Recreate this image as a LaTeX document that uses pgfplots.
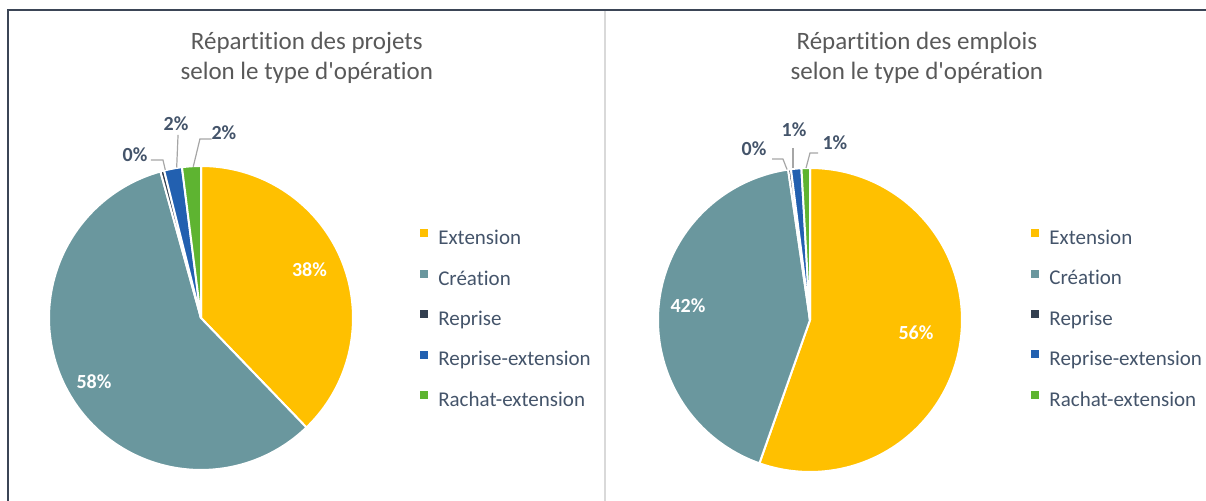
\documentclass[border=0pt]{standalone}
\usepackage{fontspec}
\setmainfont{Carlito}[Ligatures={NoCommon}]
\usepackage{pgfplots}
\pgfplotsset{compat=1.18}
\definecolor{cExt}{HTML}{FFC000}
\definecolor{cCre}{HTML}{6A979E}
\definecolor{cRep}{HTML}{333F50}
\definecolor{cRepExt}{HTML}{2260B0}
\definecolor{cRach}{HTML}{5EB431}
\definecolor{cLab}{HTML}{44546A}
\definecolor{cTitle}{HTML}{595959}
\definecolor{cLead}{HTML}{A6A6A6}
\definecolor{cFrame}{HTML}{3B4556}
\definecolor{cDiv}{HTML}{D9D9D9}
% slice from cumulative percent #1 to #2, clockwise from 12 o'clock
\newcommand{\pieslice}[3]{%
  \pgfmathsetmacro\angA{90-3.6*(#2)}%
  \pgfmathsetmacro\angB{90-3.6*(#1)}%
  \edef\doslice{\noexpand\addplot[fill=#3,draw=white,line width=1pt,domain=\angA:\angB,samples=120]}%
  \doslice ({cos(x)},{sin(x)}) -- (axis cs:0,0) -- cycle;%
}
\pgfplotsset{
  pieaxis/.style={
    x=76pt, y=76pt,
    xmin=-1.2, xmax=1.2, ymin=-1.2, ymax=1.2,
    hide axis, clip=false, anchor=center,
    title style={anchor=center, align=center, text=cTitle, yshift=-7.5pt,
      font=\fontsize{12.5}{15}\selectfont},
    legend style={anchor=north west, draw=none, fill=none, inner sep=0pt,
      row sep=10pt, column sep=5pt, text=cLab,
      font=\fontsize{10.5}{12}\selectfont,
      nodes={inner sep=0pt, text height=7.5pt, text depth=2.5pt}},
    legend cell align=left,
    legend image code/.code={\fill[##1,draw=none] (0pt,1.2pt) rectangle (4pt,5.2pt);},
  },
}
\tikzset{
  inlab/.style={font=\fontsize{10}{12}\selectfont\bfseries, text=white},
  outlab/.style={font=\fontsize{10}{12}\selectfont\bfseries, text=cLab},
  lead/.style={draw=cLead, line width=0.6pt},
}
\begin{document}
\begin{tikzpicture}
% frame
\fill[cFrame] (3.5pt,0pt) rectangle (4.6pt,246pt);
\fill[cFrame] (3.5pt,244.9pt) rectangle (603pt,246pt);
\draw[cDiv, line width=0.6pt] (302.5pt,0pt) -- (302.5pt,244.8pt);

% ---------------- left: projets ----------------
% Extension 37.8, Creation 57.9, Reprise 0.4, Reprise-extension 1.9, Rachat-extension 2.0
\begin{axis}[pieaxis, at={(100.5pt,91.5pt)},
  title={Répartition des projets\\selon le type d\textquotesingle opération},
  title style={at={(0.790,1.221)}},
  legend style={at={(1.100,0.744)}}]
\pieslice{0}{37.8}{cExt}\addlegendentry{Extension}
\pieslice{37.8}{95.7}{cCre}\addlegendentry{Création}
\pieslice{95.7}{96.1}{cRep}\addlegendentry{Reprise}
\pieslice{96.1}{98.0}{cRepExt}\addlegendentry{Reprise-extension}
\pieslice{98.0}{100}{cRach}\addlegendentry{Rachat-extension}
\node[inlab] at (axis cs:0.714,0.319) {38\%};
\node[inlab] at (axis cs:-0.704,-0.421) {58\%};
\node[outlab] at (axis cs:-0.434,1.072) {0\%};
\node[outlab] at (axis cs:-0.164,1.276) {2\%};
\node[outlab] at (axis cs:0.151,1.217) {2\%};
\draw[lead] (axis cs:-0.329,1.039) -- (axis cs:-0.25,1.039) -- (axis cs:-0.235,0.975);
\draw[lead] (axis cs:-0.151,1.205) -- (axis cs:-0.160,0.99);
\draw[lead] (axis cs:0.07,1.178) -- (axis cs:-0.007,1.178) -- (axis cs:-0.051,0.995);
\end{axis}

% ---------------- right: emplois ----------------
% Extension 55.4, Creation 42.3, Reprise 0.3, Reprise-extension 1.1, Rachat-extension 0.9
\begin{axis}[pieaxis, at={(405pt,90.5pt)},
  title={Répartition des emplois\\selon le type d\textquotesingle opération},
  title style={at={(0.793,1.226)}},
  legend style={at={(1.106,0.750)}}]
\pieslice{0}{55.4}{cExt}\addlegendentry{Extension}
\pieslice{55.4}{97.7}{cCre}\addlegendentry{Création}
\pieslice{97.7}{98.0}{cRep}\addlegendentry{Reprise}
\pieslice{98.0}{99.1}{cRepExt}\addlegendentry{Reprise-extension}
\pieslice{99.1}{100}{cRach}\addlegendentry{Rachat-extension}
\node[inlab] at (axis cs:0.697,-0.086) {56\%};
\node[inlab] at (axis cs:-0.803,0.092) {42\%};
\node[outlab] at (axis cs:-0.368,1.125) {0\%};
\node[outlab] at (axis cs:-0.105,1.25) {1\%};
\node[outlab] at (axis cs:0.164,1.164) {1\%};
\draw[lead] (axis cs:-0.25,1.059) -- (axis cs:-0.178,1.059) -- (axis cs:-0.151,0.99);
\draw[lead] (axis cs:-0.112,1.132) -- (axis cs:-0.112,1.0);
\draw[lead] (axis cs:0.053,1.099) -- (axis cs:0,1.099) -- (axis cs:-0.026,1.0);
\end{axis}

\pgfresetboundingbox
\path[use as bounding box] (0pt,0pt) rectangle (603pt,250.5pt);
\end{tikzpicture}
\end{document}
